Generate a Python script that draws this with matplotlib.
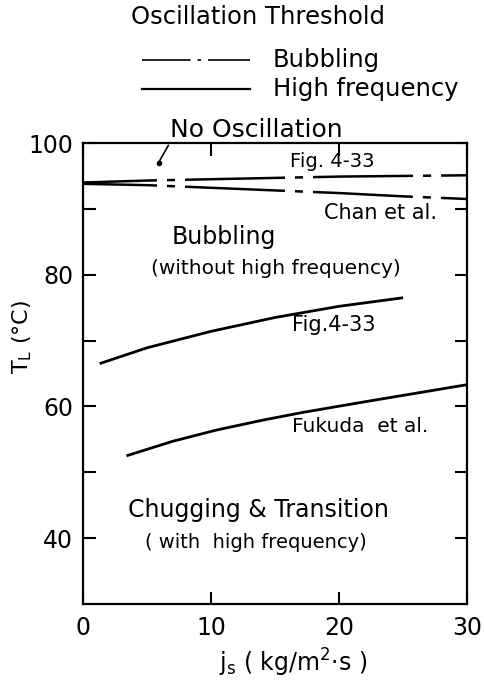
import matplotlib
matplotlib.use("Agg")
import matplotlib.pyplot as plt
from matplotlib.lines import Line2D

plt.rcParams['font.family'] = ['DejaVu Sans']
plt.rcParams['lines.scale_dashes'] = False

# Bubbling thresholds (dash-dot)
bub_fig_x = [0, 5, 10, 15, 20, 25, 30]
bub_fig_T = [94.0, 94.3, 94.5, 94.7, 94.9, 95.0, 95.1]
bub_chan_x = [0, 5, 10, 15, 20, 25, 30]
bub_chan_T = [93.8, 93.6, 93.2, 92.8, 92.4, 91.9, 91.5]

# High-frequency thresholds (solid)
hf_fig_x = [1.3, 5, 10, 15, 20, 25]
hf_fig_T = [66.5, 68.9, 71.4, 73.5, 75.2, 76.5]
hf_fuk_x = [3.4, 7, 10.4, 14, 17.2, 22, 26, 30]
hf_fuk_T = [52.5, 54.7, 56.4, 57.9, 59.1, 60.7, 62.0, 63.3]

no_osc_point = (5.9, 97.0)

x_ticks = [0, 10, 20, 30]
y_ticks = [40, 60, 80, 100]
y_minor = [50, 70, 90]

fig = plt.figure(figsize=(4.85, 6.81), dpi=100)
ax = fig.add_axes([0.1711, 0.1131, 0.7918, 0.6769])
ax.set_xlim(0, 30)
ax.set_ylim(30, 100)

dash = (18.7, (72, 7.2, 5.8, 7.2))
ax.plot(bub_fig_x, bub_fig_T, color='black', lw=1.8, linestyle=dash)
ax.plot(bub_chan_x, bub_chan_T, color='black', lw=1.8, linestyle=dash)
ax.plot(hf_fig_x, hf_fig_T, color='black', lw=2.0, solid_capstyle='butt')
ax.plot(hf_fuk_x, hf_fuk_T, color='black', lw=2.0, solid_capstyle='butt')

for s in ax.spines.values():
    s.set_linewidth(1.6)

ax.set_xticks(x_ticks)
ax.set_yticks(y_ticks)
ax.set_yticks(y_minor, minor=True)
ax.tick_params(axis='both', which='both', direction='in', length=9, width=1.5,
               top=True, right=True, labelsize=17, pad=7)
ax.tick_params(axis='x', pad=9)

ax.set_ylabel('T$_\\mathregular{L}$ (°C)', fontsize=16)
ax.yaxis.set_label_coords(-0.128, 0.58)
ax.set_xlabel('j$_\\mathregular{s}$ ( kg/m$^\\mathregular{2}$·s )', fontsize=17)
ax.xaxis.set_label_coords(0.547, -0.092)

# Region and curve labels
ax.text(16.2, 97.2, 'Fig. 4-33', fontsize=14, va='center', ha='left')
ax.text(18.8, 89.3, 'Chan et al.', fontsize=15, va='center', ha='left')
ax.text(11.0, 85.7, 'Bubbling', fontsize=17, va='center', ha='center')
ax.text(15.1, 81.0, '(without high frequency)', fontsize=14.5, va='center', ha='center')
ax.text(16.3, 72.3, 'Fig.4-33', fontsize=15, va='center', ha='left')
ax.text(16.3, 57.0, 'Fukuda  et al.', fontsize=14.5, va='center', ha='left')
ax.text(13.7, 44.3, 'Chugging & Transition', fontsize=17, va='center', ha='center')
ax.text(13.5, 39.3, '( with  high frequency)', fontsize=14, va='center', ha='center')

ax.annotate('No Oscillation', xy=no_osc_point, xytext=(6.8, 101.9),
            textcoords='data', fontsize=18, va='center', ha='left',
            annotation_clip=False,
            arrowprops=dict(arrowstyle='-', color='black', lw=1.2,
                            shrinkA=0, shrinkB=0,
                            relpos=(0.0, 0.0)))
ax.plot(*no_osc_point, 'o', color='black', ms=3, clip_on=False)

# Legend block above the axes
W, H = 485, 681
def fx(px):
    return px / W
def fy(py):
    return 1 - py / H

fig.text(fx(258), fy(17), 'Oscillation Threshold', fontsize=17.5, ha='center', va='center')
fig.add_artist(Line2D([fx(142), fx(250)], [fy(60), fy(60)], color='black', lw=1.2,
                      linestyle=(0, (35, 5, 2.5, 5))))
fig.add_artist(Line2D([fx(142), fx(250)], [fy(89), fy(89)], color='black', lw=1.6))
fig.text(fx(273), fy(60), 'Bubbling', fontsize=17.5, ha='left', va='center')
fig.text(fx(273), fy(89), 'High frequency', fontsize=17.5, ha='left', va='center')

fig.savefig('out.png', dpi=100)
